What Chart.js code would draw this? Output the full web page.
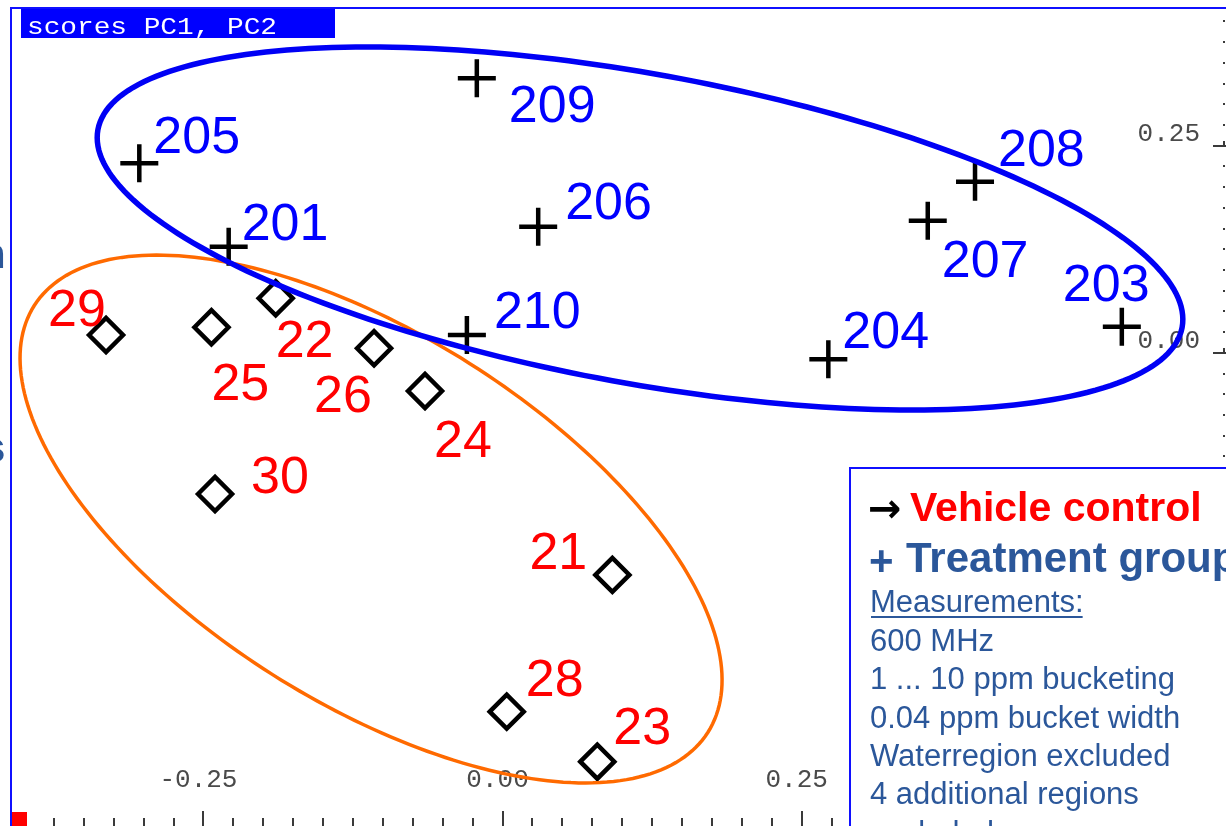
<!DOCTYPE html>
<html>
<head>
<meta charset="utf-8">
<title>scores PC1, PC2</title>
<script src="https://cdn.jsdelivr.net/npm/chart.js@4/dist/chart.umd.min.js"></script>
<style>
  html, body { margin: 0; padding: 0; background: #ffffff; overflow: hidden; }
  canvas { display: block; }
</style>
</head>
<body>
<canvas id="pca" width="1226" height="826"></canvas>
<script>
// PCA scores, first two components
const vehicleIds = ['29', '25', '22', '26', '24', '30', '21', '28', '23'];
const vehiclePC1 = [-0.3314, -0.2433, -0.1896, -0.1074, -0.0648, -0.2403, 0.0918, 0.0035, 0.0792];
const vehiclePC2 = [0.0216, 0.0309, 0.0659, 0.0056, -0.0460, -0.1703, -0.2680, -0.4330, -0.4934];

const treatmentIds = ['209', '205', '201', '206', '208', '207', '210', '204', '203'];
const treatmentPC1 = [-0.0215, -0.3036, -0.2289, 0.0298, 0.3949, 0.3554, -0.0298, 0.2723, 0.5176];
const treatmentPC2 = [0.3314, 0.2288, 0.1282, 0.1523, 0.2066, 0.1595, 0.0216, -0.0077, 0.0316];

// axis ranges and tick spacing (score units)
const pc1Range = [-0.41, 0.603];
const pc2Range = [-0.571, 0.415];
const minorStep = 0.025;
const majorStep = 0.25;

// group outlines: centre and two conjugate semi-axes, in score units
const vehicleOutline = { centre: [-0.1099, -0.2005], axisU: [0.2816, -0.2573], axisV: [-0.0823, -0.1878] };
const treatmentOutline = { centre: [0.1149, 0.1501], axisU: [0.4531, -0.1192], axisV: [-0.02315, -0.1837] };

// legend / measurement notes
const notesHeading = 'Measurements:';
const notesLines = ['600 MHz', '1 ... 10 ppm bucketing', '0.04 ppm bucket width', 'Waterregion excluded', '4 additional regions', 'excluded'];

// label placement next to each marker: [dx to text start, dy to baseline] in px
const vehicleLabelOffsets = [[-58, -9], [0, 73], [0, 59], [-60, 64], [9, 66], [36, -1], [-83, -6], [19, -16], [16, -18]];
const treatmentLabelOffsets = [[32, 44], [14, -10], [13, -7], [27, -8], [23, -16], [14, 56], [27, -7], [14, -11], [-59, -26]];

const LABEL_FONT = '52px "Liberation Sans", Arial, sans-serif';
const MONO_FONT = '"Liberation Mono", "DejaVu Sans Mono", monospace';
const NOTE_BLUE = '#2b579a';

const toPoints = (xs, ys) => xs.map((x, i) => ({ x, y: ys[i] }));

const isMajor = v => Math.abs(v / majorStep - Math.round(v / majorStep)) < 1e-6;

function stepTicks(scale) {
  const ticks = [];
  for (let k = Math.ceil(scale.min / minorStep - 1e-9); k * minorStep <= scale.max + 1e-9; k++) {
    ticks.push({ value: Math.round(k * minorStep * 1000) / 1000 });
  }
  scale.ticks = ticks;
}

// the axes sit on the plot edges and take no room of their own
function flushAxis(scale) {
  if (scale.isHorizontal()) scale.height = 0; else scale.width = 0;
  scale.paddingLeft = scale.paddingRight = scale.paddingTop = scale.paddingBottom = 0;
}

const tickLabel = v => (isMajor(v) ? (Math.abs(v) < 1e-9 ? 0 : v).toFixed(2) : '');

function drawOutline(ctx, chart, shape, color, width) {
  const xs = chart.scales.x, ys = chart.scales.y;
  const [cx, cy] = shape.centre;
  ctx.save();
  ctx.beginPath();
  const n = 240;
  for (let i = 0; i <= n; i++) {
    const t = (i / n) * Math.PI * 2;
    const vx = cx + shape.axisU[0] * Math.cos(t) + shape.axisV[0] * Math.sin(t);
    const vy = cy + shape.axisU[1] * Math.cos(t) + shape.axisV[1] * Math.sin(t);
    const px = xs.getPixelForValue(vx), py = ys.getPixelForValue(vy);
    if (i === 0) ctx.moveTo(px, py); else ctx.lineTo(px, py);
  }
  ctx.closePath();
  ctx.strokeStyle = color;
  ctx.lineWidth = width;
  ctx.stroke();
  ctx.restore();
}

function drawIds(ctx, chart, datasetIndex, ids, offsets, color) {
  const meta = chart.getDatasetMeta(datasetIndex);
  ctx.save();
  ctx.font = LABEL_FONT;
  ctx.fillStyle = color;
  ctx.textAlign = 'left';
  ctx.textBaseline = 'alphabetic';
  meta.data.forEach((pt, i) => {
    ctx.fillText(ids[i], pt.x + offsets[i][0], pt.y + offsets[i][1]);
  });
  ctx.restore();
}

const scorePlotDecor = {
  id: 'scorePlotDecor',
  afterDatasetsDraw(chart) {
    const ctx = chart.ctx;
    drawIds(ctx, chart, 0, vehicleIds, vehicleLabelOffsets, '#ff0000');
    drawIds(ctx, chart, 1, treatmentIds, treatmentLabelOffsets, '#0000ff');
    drawOutline(ctx, chart, vehicleOutline, '#ff6a00', 3.5);
    drawOutline(ctx, chart, treatmentOutline, '#0000f5', 5.5);
  },
  afterDraw(chart) {
    const ctx = chart.ctx;
    const xs = chart.scales.x, ys = chart.scales.y;
    const area = chart.chartArea;
    ctx.save();

    // axis tick marks
    ctx.fillStyle = '#3a3a3a';
    xs.ticks.forEach(t => {
      const px = Math.round(xs.getPixelForValue(t.value));
      const len = isMajor(t.value) ? 15 : 8;
      ctx.fillRect(px - 1, area.bottom - len, 2, len);
    });
    ys.ticks.forEach(t => {
      const py = Math.round(ys.getPixelForValue(t.value));
      if (isMajor(t.value)) {
        ctx.fillRect(area.right - 11, py - 1, 13, 2);
        ctx.fillRect(area.right - 1, py - 5, 2, 4);
      } else {
        ctx.fillRect(area.right - 1, py - 1, 2, 2);
      }
    });

    // origin marker
    ctx.fillStyle = '#ff0000';
    ctx.fillRect(12, 812, 15, 14);

    // window frame
    ctx.fillStyle = '#1010ff';
    ctx.fillRect(10, 7, 2, 819);
    ctx.fillRect(10, 7, 1216, 2);

    // title bar
    ctx.fillStyle = '#0000ff';
    ctx.fillRect(21, 9, 314, 29);
    ctx.font = '24px ' + MONO_FONT;
    const titleText = 'scores PC1, PC2';
    const w = ctx.measureText(titleText).width;
    ctx.translate(27, 34);
    ctx.scale(250 / w, 1);
    ctx.fillStyle = '#ffffff';
    ctx.textBaseline = 'alphabetic';
    ctx.fillText(titleText, 0, 0);
    ctx.setTransform(1, 0, 0, 1, 0, 0);

    // notes panel
    ctx.fillStyle = '#ffffff';
    ctx.fillRect(850, 468, 376, 358);
    ctx.fillStyle = '#1010ff';
    ctx.fillRect(849, 467, 377, 2);
    ctx.fillRect(849, 467, 2, 359);

    ctx.textAlign = 'left';
    ctx.textBaseline = 'alphabetic';
    ctx.fillStyle = '#000000';
    ctx.font = 'bold 40px "DejaVu Sans", sans-serif';
    ctx.fillText('\u2192', 868, 522);
    ctx.fillStyle = '#ff0000';
    ctx.font = 'bold 41px "Liberation Sans", Arial, sans-serif';
    ctx.fillText('Vehicle control', 910, 521);
    ctx.fillStyle = NOTE_BLUE;
    ctx.font = 'bold 42px "Liberation Sans", Arial, sans-serif';
    ctx.fillText('+', 869, 575);
    ctx.fillText('Treatment group', 906, 572);

    ctx.font = '31px "Liberation Sans", Arial, sans-serif';
    ctx.fillText(notesHeading, 870, 612);
    const hw = ctx.measureText(notesHeading).width;
    ctx.fillRect(871, 616, hw - 2, 2);
    notesLines.forEach((line, i) => {
      ctx.fillText(line, 870, 651 + i * 38.3);
    });

    // neighbouring slide text at the left edge
    ctx.font = 'bold 42px "Liberation Sans", Arial, sans-serif';
    ctx.fillText('n', -20, 268);
    ctx.fillText('s', -18, 462);

    ctx.restore();
  }
};

new Chart(document.getElementById('pca'), {
  type: 'scatter',
  data: {
    datasets: [
      {
        label: 'Vehicle control',
        data: toPoints(vehiclePC1, vehiclePC2),
        pointStyle: 'rectRot',
        pointRadius: 17,
        borderColor: '#000000',
        backgroundColor: 'rgba(255,255,255,0)',
        borderWidth: 4.5
      },
      {
        label: 'Treatment group',
        data: toPoints(treatmentPC1, treatmentPC2),
        pointStyle: 'cross',
        pointRadius: 19,
        borderColor: '#000000',
        borderWidth: 4.5
      }
    ]
  },
  options: {
    responsive: false,
    animation: false,
    events: [],
    layout: { autoPadding: false, padding: { left: 12, right: 2, top: 9, bottom: 0 } },
    plugins: {
      legend: { display: false },
      tooltip: { enabled: false },
      title: { display: false }
    },
    scales: {
      x: {
        type: 'linear',
        position: 'bottom',
        min: pc1Range[0],
        max: pc1Range[1],
        bounds: 'data',
        afterBuildTicks: stepTicks,
        afterFit: flushAxis,
        grid: { display: false, drawTicks: false },
        border: { display: false },
        ticks: {
          mirror: true,
          padding: 30,
          labelOffset: -5,
          autoSkip: false,
          maxRotation: 0,
          color: '#4a4a4a',
          font: { family: MONO_FONT, size: 26 },
          callback: tickLabel
        }
      },
      y: {
        type: 'linear',
        position: 'right',
        min: pc2Range[0],
        max: pc2Range[1],
        bounds: 'data',
        afterBuildTicks: stepTicks,
        afterFit: flushAxis,
        grid: { display: false, drawTicks: false },
        border: { display: false },
        ticks: {
          mirror: true,
          padding: -24,
          labelOffset: -12,
          autoSkip: false,
          color: '#4a4a4a',
          font: { family: MONO_FONT, size: 26 },
          callback: tickLabel
        }
      }
    }
  },
  plugins: [scorePlotDecor]
});
</script>
</body>
</html>
